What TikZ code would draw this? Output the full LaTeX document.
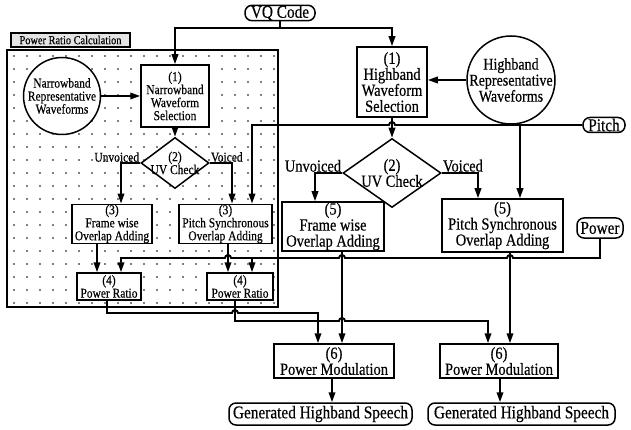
\documentclass[tikz,border=0pt]{standalone}
\usepackage{fontspec}
\setmainfont{Liberation Serif}[FakeStretch=0.85, FakeBold=0.4]
\usepackage{tikz}
\usetikzlibrary{arrows.meta,shapes.geometric}
\newcommand\bigtxt{\fontsize{17}{16}\selectfont}
\newcommand\smalltxt{\fontsize{13.5}{13}\selectfont}
\newcommand\termtxt{\fontsize{18}{17}\selectfont}
\tikzset{
  box/.style={draw, rectangle, fill=white, line width=1.5pt, align=center, inner sep=0.5pt, font=\bigtxt},
  sbox/.style={box, font=\smalltxt},
  term/.style={draw, rectangle, fill=white, line width=1.5pt, rounded corners=7pt, inner xsep=2pt, inner ysep=0pt, font=\termtxt},
  wave/.style={draw, circle, fill=white, line width=1.5pt, inner sep=0pt},
  uvchk/.style={draw, diamond, fill=white, line width=1.5pt, inner sep=0pt},
  lbl/.style={inner sep=1pt, font=\bigtxt},
  arr/.style={-{Triangle[length=10pt,width=6.5pt]}, line width=1.9pt},
  ln/.style={line width=1.9pt}
}

\begin{document}
\begin{tikzpicture}[x=1pt, y=-1pt]
\useasboundingbox (0,0) rectangle (631,430);
\node[draw, line width=1.8pt, minimum width=271pt, minimum height=257pt, inner sep=0pt] (prc) at (142.5,178.5) {};
\foreach \i in {14,27,...,274}
  \foreach \j in {56,69,...,303}
    \fill (\i,\j) circle (0.9pt);
\node[draw, line width=1.3pt, fill=gray!20, minimum width=119pt, minimum height=14pt, inner sep=0pt, font=\fontsize{12.2}{12}\selectfont] (prcl) at (70.5,40) {Power Ratio Calculation};

\node[term, minimum width=70pt, minimum height=15pt] (vq) at (280,13) {VQ Code};
\node[wave, minimum size=77pt, label={[font=\smalltxt, align=center]center:Narrowband\\Representative\\Waveforms}] (nbw) at (62,96) {};
\node[sbox, minimum width=68pt, minimum height=62pt] (nbsel) at (175,96) {(1)\\Narrowband\\Waveform\\Selection};
\node[uvchk, minimum width=68pt, minimum height=51pt, label={[font=\smalltxt, align=center]center:(2)\\UV Check}] (nbuv) at (175,163) {};
\node[sbox, minimum width=80pt, minimum height=38pt] (nbfw) at (112,224) {(3)\\Frame wise\\Overlap Adding};
\node[sbox, minimum width=93pt, minimum height=38pt] (nbps) at (225.5,224) {(3)\\Pitch Synchronous\\Overlap Adding};
\node[sbox, minimum width=64pt, minimum height=27pt] (nbpr1) at (109,286.5) {(4)\\Power Ratio};
\node[sbox, minimum width=66pt, minimum height=27pt] (nbpr2) at (240,286.5) {(4)\\Power Ratio};

\node[box, minimum width=70pt, minimum height=70pt] (hbsel) at (392,82) {(1)\\Highband\\Waveform\\Selection};
\node[wave, minimum size=88pt, label={[font=\fontsize{16.5}{16}\selectfont, align=center]center:Highband\\Representative\\Waveforms}] (hbw) at (511,80) {};
\node[uvchk, minimum width=98pt, minimum height=69pt, label={[font=\bigtxt, align=center]center:(2)\\UV Check}] (hbuv) at (392,173) {};
\node[box, minimum width=102pt, minimum height=49pt] (hbfw) at (333,226.5) {(5)\\Frame wise\\Overlap Adding};
\node[box, minimum width=121pt, minimum height=53pt] (hbps) at (502.5,225.5) {(5)\\Pitch Synchronous\\Overlap Adding};
\node[term, minimum width=42pt, minimum height=15pt] (pitch) at (604,125) {Pitch};
\node[term, minimum width=46pt, minimum height=20pt] (pw) at (600,228) {Power};
\node[box, minimum width=120pt, minimum height=34pt] (pm1) at (334,361) {(6)\\Power Modulation};
\node[box, minimum width=118pt, minimum height=34pt] (pm2) at (499,361) {(6)\\Power Modulation};
\node[term, minimum width=183pt, minimum height=22pt] (gen1) at (320.5,414) {Generated Highband Speech};
\node[term, minimum width=187pt, minimum height=22pt] (gen2) at (521.5,414) {Generated Highband Speech};

\node[lbl, font=\smalltxt, anchor=south east] (nbun) at (nbuv.west) {Unvoiced};
\node[lbl, font=\smalltxt, anchor=south west] (nbvo) at (nbuv.east) {Voiced};
\node[lbl, anchor=south east] (hbun) at (hbuv.west) {Unvoiced};
\node[lbl, anchor=south west] (hbvo) at (hbuv.east) {Voiced};

\coordinate (vqbus) at (0,28);
\coordinate (pbus) at (0,258);
\coordinate (rbus1) at (0,313);
\coordinate (rbus2) at (0,321);
\coordinate (o3a) at ([xshift=-15pt]nbfw.south);
\coordinate (o3b) at ([xshift=2.5pt]nbps.south);
\coordinate (o4a) at ([xshift=-2pt]nbpr1.south);
\coordinate (o4b) at ([xshift=-5pt]nbpr2.south);
\coordinate (o5a) at ([xshift=9pt]hbfw.south);
\coordinate (o5b) at ([xshift=7.5pt]hbps.south);
\coordinate (hpp) at (hbsel.south |- pitch.west);
\coordinate (hp1) at (o5b |- pbus);
\coordinate (hp2) at (o5a |- pbus);
\coordinate (hp3) at (o3b |- pbus);
\coordinate (hr1) at (o4b |- rbus1);
\coordinate (hr2) at (o5a |- rbus2);

\draw[ln] (vq.south) -- (vq.south |- vqbus);
\draw[arr] (vq.south |- vqbus) -| (nbsel.north);
\draw[arr] (vq.south |- vqbus) -| (hbsel.north);
\draw[arr] (nbw) -- (nbsel);
\draw[arr] (hbw.west) -- (hbw.west -| hbsel.east);
\draw[arr] (nbsel) -- (nbuv);
\draw[arr] (nbuv.west) -| ([xshift=9pt]nbfw.north);
\draw[arr] (nbuv.east) -| ([xshift=6.5pt]nbps.north);
\draw[arr] (hbsel) -- (hbuv);
\draw[arr] (hbuv.west) -| ([xshift=-18pt]hbfw.north);
\draw[arr] (hbuv.east) -| ([xshift=-24.5pt]hbps.north);

\draw[arr] (pitch.west) -- ([xshift=3pt]hpp) arc[start angle=0, end angle=180, radius=3pt] -| ([xshift=26.5pt]nbps.north);
\draw[arr] ([xshift=17.5pt]hbps.north |- pitch.west) -- ([xshift=17.5pt]hbps.north);

\draw[arr] (pw.south) |- ([xshift=3pt]hp1) arc[start angle=0, end angle=180, radius=3pt]
  -- ([xshift=3pt]hp2) arc[start angle=0, end angle=180, radius=3pt]
  -- ([xshift=3pt]hp3) arc[start angle=0, end angle=180, radius=3pt]
  -| ([xshift=12pt]nbpr1.north);
\draw[arr] ([xshift=12pt]nbpr2.north |- pbus) -- ([xshift=12pt]nbpr2.north);

\draw[arr] (o3a) -- (o3a |- nbpr1.north);
\draw[arr] (o3b) -- (o3b |- nbpr2.north);
\draw[arr] (o4a) |- ([xshift=-3pt]hr1) arc[start angle=180, end angle=0, radius=3pt] -| ([xshift=-16pt]pm1.north);
\draw[arr] (o4b) |- ([xshift=-3pt]hr2) arc[start angle=180, end angle=0, radius=3pt] -| ([xshift=-11pt]pm2.north);
\draw[arr] (o5a) -- (o5a |- pm1.north);
\draw[arr] (o5b) -- (o5b |- pm2.north);
\draw[arr] ([xshift=-2pt]pm1.south) -- ([xshift=-2pt]pm1.south |- gen1.north);
\draw[arr] ([xshift=1pt]pm2.south) -- ([xshift=1pt]pm2.south |- gen2.north);
\end{tikzpicture}
\end{document}
